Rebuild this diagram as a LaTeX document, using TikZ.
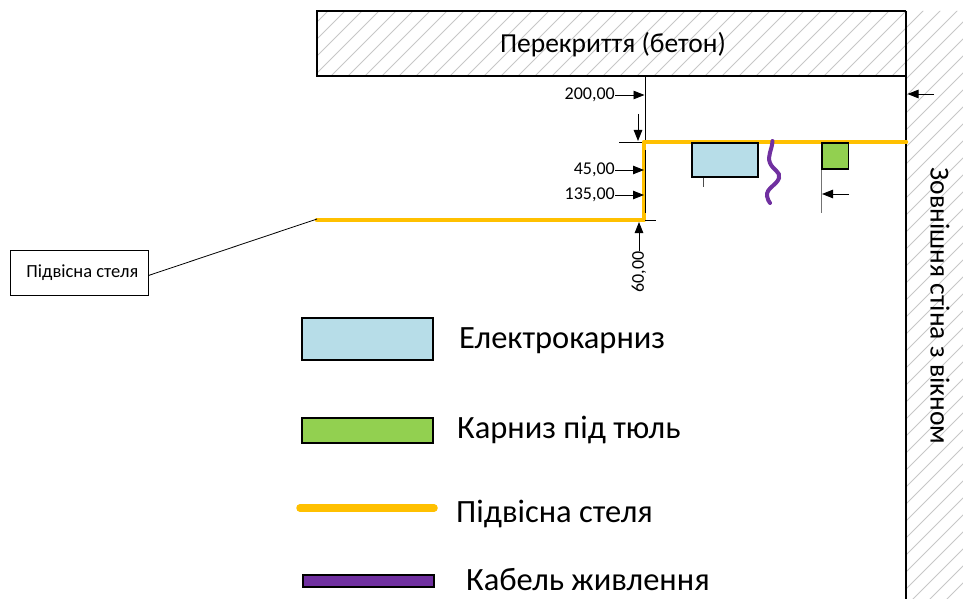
\documentclass[tikz,border=0pt]{standalone}
\usepackage{fontspec}
\setmainfont{Carlito}
\usetikzlibrary{arrows.meta}
\definecolor{ceil}{HTML}{FFC000}
\definecolor{rail}{HTML}{B7DDE8}
\definecolor{tulle}{HTML}{92D050}
\definecolor{cable}{HTML}{7030A0}
\tikzset{
  x=1pt,y=-1pt,
  hatch/.style={draw=black!22,line width=0.8pt},
  wallline/.style={draw=black,line width=1.5pt},
  ceilline/.style={draw=ceil,line width=4.6pt,line cap=round,line join=round},
  itembox/.style={draw=black,line width=1.7pt,anchor=north west,inner sep=0pt},
  dimline/.style={draw=black,line width=0.8pt},
  dimarrow/.style={draw=black,line width=0.9pt,-{Triangle[length=11pt,width=8.5pt]}},
  dimtext/.style={font=\fontsize{18}{20}\selectfont,inner sep=0pt},
  legendtext/.style={font=\fontsize{32.5}{36}\selectfont,anchor=west,inner sep=0pt},
  bigtext/.style={font=\fontsize{27.5}{30}\selectfont,inner sep=0pt},
}
\begin{document}
\begin{tikzpicture}
\useasboundingbox (0,0) rectangle (963,599);
% hatching
\begin{scope}
\clip (317,11) rectangle (906,76) (906,11) rectangle (963,599);
\foreach \k in {-595,-578,...,680}{
  \draw[hatch] (\k+300,600) -- (\k+900,0);
}
\end{scope}
\draw[wallline] (906,11) -- (317,11) -- (317,76) -- (906,76);
\draw[wallline] (906,11) -- (906,599);
\node[bigtext] (slab) at (613,45) {Перекриття (бетон)};
\node[bigtext,rotate=-90] (wall) at (940,306) {Зовнішня стіна з вікном};
% dimension extension lines
\coordinate (e1a) at (645,76);
\coordinate (e1b) at (645,142);
\draw[dimline] (e1a) -- (e1b);
\coordinate (e2a) at (619,142);
\coordinate (e2b) at (645,142);
\draw[dimline] (e2a) -- (e2b);
\coordinate (e3a) at (645,220);
\coordinate (e3b) at (656,220);
% ceiling
\draw[ceilline] (317,220) -- (644,220) -- (644,142) -- (906,142);
\draw[dimline] (e3a) -- (e3b);
\coordinate (e6a) at (645,150);
\coordinate (e6b) at (645,213);
\draw[dimline] (e6a) -- (e6b);
% items
\coordinate (e4a) at (703,176);
\coordinate (e4b) at (703,187);
\draw[dimline,draw=black!70] (e4a) -- (e4b);
\coordinate (e5a) at (821,142);
\coordinate (e5b) at (821,213);
\draw[draw=black!55,line width=1pt] (e5a) -- (e5b);
\node[itembox,fill=rail,minimum width=66pt,minimum height=34pt] (rail) at (691,142) {};
\node[itembox,fill=tulle,minimum width=26.5pt,minimum height=26pt] (tulle) at (821,142) {};
\draw[draw=cable,line width=4pt,line cap=round]
  (772.5,141) .. controls (772,150) and (767,156) .. (770,163)
  .. controls (773,170) and (781,172) .. (779,178)
  .. controls (777,185) and (766,188) .. (767,196)
  .. controls (767.5,199) and (769,202) .. (770,203);
% dimension labels and arrows
\node[dimtext,anchor=east] (d200) at (615,95) {200,00};
\node[dimtext,anchor=east] (d45) at (615,170) {45,00};
\node[dimtext,anchor=east] (d135) at (615,195) {135,00};
\node[dimtext,rotate=90] (d60) at (639,272) {60,00};
\coordinate (d200t) at (644.5,95);
\coordinate (d45t) at (644,170);
\coordinate (d135t) at (644,195);
\coordinate (d60t) at (639,222);
\coordinate (a1s) at (638,114);
\coordinate (a1t) at (638,141);
\coordinate (a2s) at (934,94);
\coordinate (a2t) at (907.5,94);
\coordinate (a3s) at (849,194);
\coordinate (a3t) at (822,194);
\draw[dimarrow] (d200) -- (d200t);
\draw[dimarrow] (d45) -- (d45t);
\draw[dimarrow] (d135) -- (d135t);
\draw[dimarrow] (d60) -- (d60t);
\draw[dimarrow] (a1s) -- (a1t);
\draw[dimarrow] (a2s) -- (a2t);
\draw[dimarrow] (a3s) -- (a3t);
% callout
\node[draw=black,line width=0.8pt,fill=white,minimum width=138pt,minimum height=45pt,inner sep=0pt,font=\fontsize{18.5}{20}\selectfont,anchor=north west] (call) at (10,250) {\hspace*{6pt}Підвісна стеля};
\coordinate (callt) at (317,219);
\draw[dimline] (call.east) ++(0,2.5) -- (callt);
% legend
\node[itembox,fill=rail,minimum width=131pt,minimum height=42pt] (lg1) at (301,317) {};
\node[itembox,fill=tulle,minimum width=131pt,minimum height=25pt] (lg2) at (301,417) {};
\coordinate (lg3a) at (300,508);
\coordinate (lg3b) at (434,508);
\draw[ceilline,line width=7.5pt] (lg3a) -- (lg3b);
\node[itembox,fill=cable,minimum width=131pt,minimum height=12pt] (lg4) at (302,574) {};
\node[legendtext] (t1) at (459,341) {Електрокарниз};
\node[legendtext] (t2) at (457,430) {Карниз під тюль};
\node[legendtext] (t3) at (456,514) {Підвісна стеля};
\node[legendtext] (t4) at (466,580) {Кабель живлення};
\end{tikzpicture}
\end{document}
